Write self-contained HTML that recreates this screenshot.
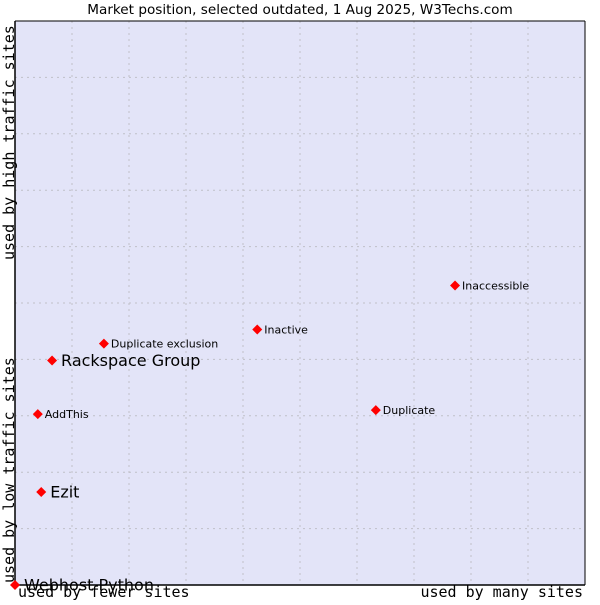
<!DOCTYPE html>
<html><head><meta charset="utf-8"><style>
body{margin:0;background:#fff;}
svg text{font-family:"DejaVu Sans","Liberation Sans",sans-serif;}
.mono{font-family:"DejaVu Sans Mono","Liberation Mono",monospace;}
</style></head><body>
<svg id="c" width="600" height="600" xmlns="http://www.w3.org/2000/svg">
<text x="300" y="14" text-anchor="middle" font-size="13.6" fill="#000">Market position, selected outdated, 1 Aug 2025, W3Techs.com</text>
<rect x="15" y="21" width="570" height="564" fill="#e3e4f8" stroke="none"/>
<g id="grid"></g>
<line x1="15" y1="21" x2="15" y2="585" stroke="#000" stroke-width="1.5"/>
<line x1="15" y1="585" x2="585" y2="585" stroke="#000" stroke-width="1.5"/>
<line x1="15" y1="21" x2="585" y2="21" stroke="#000" stroke-width="1"/>
<line x1="585" y1="21" x2="585" y2="585" stroke="#000" stroke-width="1"/>
<g id="points"></g>
<text class="mono" x="18" y="597" font-size="15">used by fewer sites</text>
<text class="mono" x="583" y="597" text-anchor="end" font-size="15">used by many sites</text>
<text class="mono" transform="translate(14,583) rotate(-90)" font-size="15">used by low traffic sites</text>
<text class="mono" transform="translate(14,260) rotate(-90)" font-size="15">used by high traffic sites</text>
</svg>
<script>
const names=["Webhost Python","Ezit","AddThis","Rackspace Group","Duplicate exclusion","Inactive","Duplicate","Inaccessible"];
const xValues=[0,4.6,4.0,6.5,15.6,42.5,63.3,77.2];
const yValues=[0,16.5,30.3,39.8,42.8,45.3,31.0,53.1];
const bigLabel=[true,true,false,true,false,false,false,false];
const NS="http://www.w3.org/2000/svg";
const X0=15,X1=585,Y0=585,Y1=21;
function sx(v){return X0+v/100*(X1-X0);}
function sy(v){return Y0-v/100*(Y0-Y1);}
const grid=document.getElementById('grid');
for(let i=1;i<10;i++){
  const v=document.createElementNS(NS,'line');
  
  
  v.setAttribute('x1',sx(i*10));v.setAttribute('x2',sx(i*10));v.setAttribute('y1',Y1);v.setAttribute('y2',Y0);
  v.setAttribute('stroke','#c0c0c8');v.setAttribute('stroke-dasharray','2,4');
  grid.appendChild(v);
  const h=document.createElementNS(NS,'line');
  
  
  h.setAttribute('x1',X0);h.setAttribute('x2',X1);h.setAttribute('y1',sy(i*10));h.setAttribute('y2',sy(i*10));
  h.setAttribute('stroke','#c0c0c8');h.setAttribute('stroke-dasharray','2,4');
  grid.appendChild(h);
}
const pts=document.getElementById('points');
names.forEach((n,i)=>{
  const x=sx(xValues[i]),y=sy(yValues[i]);
  const d=document.createElementNS(NS,'path');
  
  
  d.setAttribute('d',`M${x-5},${y} L${x},${y-5} L${x+5},${y} L${x},${y+5} Z`);
  d.setAttribute('fill','#ff0000');
  pts.appendChild(d);
  const t=document.createElementNS(NS,'text');
  
  
  t.setAttribute('x',x+(bigLabel[i]?9:7));
  t.setAttribute('y',y+(bigLabel[i]?5.5:4));
  t.setAttribute('font-size',bigLabel[i]?16:11);
  t.setAttribute('fill','#000');
  t.textContent=n;
  pts.appendChild(t);
});
</script>
</body></html>
